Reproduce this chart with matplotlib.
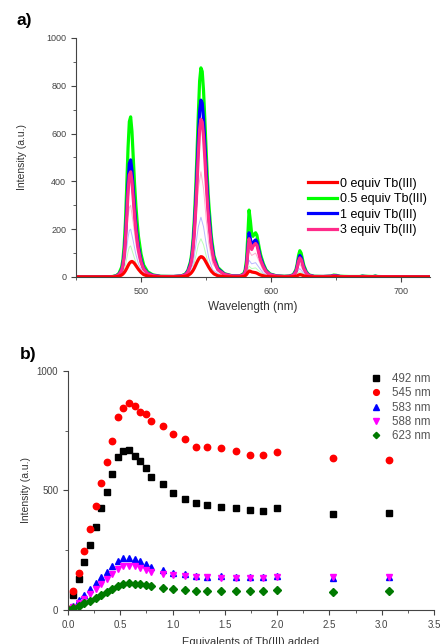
import matplotlib
matplotlib.use("Agg")
from matplotlib import pyplot as plt
from matplotlib.ticker import MultipleLocator, FormatStrFormatter

plt.rcParams['font.family'] = ['Liberation Sans', 'DejaVu Sans']

# ---- panel a: emission spectra ----
wl = [450, 470, 478, 481, 483, 485, 486, 487, 488, 489, 490, 491, 492, 493, 494, 495, 496, 497, 498, 500, 502, 505, 509, 515,
      525, 531, 534, 536, 538, 539, 540, 541, 542, 543, 544, 545, 546, 547, 548, 549, 550, 551, 552, 554, 556, 559, 564, 570,
      576, 579, 580, 581, 582, 583, 584, 585, 586, 587, 588, 589, 590, 591, 592, 594, 596, 599, 604, 610,
      614, 617, 619, 620, 621, 622, 623, 624, 625, 627, 629, 633, 640, 646, 648, 650, 653, 660, 668, 670, 672, 678, 680, 682, 690, 722]

int_0eq = [0, 0, 0, 1, 3, 8, 12, 18, 26, 36, 47, 57, 63, 65, 62, 56, 48, 40, 32, 19, 10, 4, 1, 0,
           0, 1, 3, 6, 14, 20, 28, 38, 50, 62, 73, 81, 85, 84, 79, 71, 61, 51, 41, 24, 13, 5, 1, 0,
           0, 2, 5, 10, 18, 25, 24, 21, 20, 19, 18, 16, 13, 10, 8, 5, 3, 1, 0, 0,
           0, 1, 3, 5, 8, 10, 9, 7, 5, 2, 1, 0, 0, 0, 1, 1, 0, 0, 0, 0, 0, 0, 0, 0, 0, 0]
int_05eq = [0, 0, 2, 6, 15, 40, 70, 130, 230, 380, 540, 650, 670, 610, 500, 390, 300, 230, 170, 95, 50, 22, 9, 3,
            2, 5, 12, 28, 65, 100, 160, 250, 370, 520, 680, 820, 875, 860, 780, 660, 530, 410, 310, 170, 90, 40, 14, 5,
            5, 15, 30, 70, 170, 280, 235, 180, 170, 180, 185, 175, 145, 115, 90, 55, 30, 13, 5, 3,
            4, 10, 30, 55, 90, 110, 100, 75, 50, 22, 9, 3, 2, 4, 8, 7, 3, 2, 2, 4, 3, 2, 4, 2, 1, 0]
int_1eq = [0, 0, 1, 4, 11, 29, 51, 95, 168, 278, 395, 475, 490, 446, 365, 285, 219, 168, 124, 69, 36, 16, 7, 2,
           2, 4, 10, 24, 55, 85, 135, 212, 313, 440, 575, 694, 740, 728, 660, 558, 448, 347, 262, 144, 76, 34, 12, 4,
           4, 11, 22, 50, 115, 185, 160, 130, 140, 150, 155, 148, 123, 97, 76, 47, 25, 11, 4, 2,
           3, 8, 24, 45, 74, 90, 82, 61, 41, 18, 7, 2, 2, 3, 6, 5, 2, 1, 1, 3, 2, 1, 3, 1, 1, 0]
int_3eq = [0, 0, 1, 4, 10, 26, 46, 85, 151, 250, 355, 427, 440, 401, 329, 256, 197, 151, 112, 62, 33, 14, 6, 2,
           2, 4, 9, 21, 49, 75, 121, 189, 279, 392, 513, 618, 660, 648, 588, 498, 400, 309, 234, 128, 68, 30, 11, 4,
           4, 10, 19, 43, 100, 160, 138, 115, 128, 135, 140, 133, 111, 87, 68, 42, 23, 10, 4, 2,
           3, 7, 21, 40, 66, 80, 73, 55, 36, 16, 6, 2, 2, 3, 5, 4, 2, 1, 1, 2, 2, 1, 2, 1, 1, 0]

# faint intermediate titration spectra
wl_faint = [450, 482, 486, 488, 490, 491, 492, 494, 496, 498, 501, 507, 530, 537, 540, 542, 544, 546, 548, 550,
            552, 555, 562, 578, 581, 583, 585, 588, 590, 594, 602, 615, 619, 622, 625, 630, 722]
faint_a = [0, 2, 25, 80, 165, 195, 200, 150, 95, 55, 20, 3, 1, 15, 55, 130, 210, 250, 210, 140,
           80, 30, 4, 2, 25, 70, 55, 60, 45, 15, 2, 2, 15, 35, 15, 1, 0]
faint_b = [0, 1, 16, 50, 105, 125, 130, 95, 60, 35, 13, 2, 1, 10, 35, 85, 135, 160, 135, 90,
           50, 20, 3, 1, 15, 45, 35, 38, 28, 10, 1, 1, 10, 22, 10, 1, 0]
faint_c = [0, 3, 40, 120, 250, 290, 300, 225, 140, 80, 30, 5, 2, 25, 95, 230, 370, 440, 370, 245,
           140, 55, 7, 3, 35, 110, 90, 100, 75, 25, 3, 2, 22, 55, 22, 2, 0]

# ---- panel b: titration ----
equiv = [0.0, 0.048, 0.102, 0.156, 0.207, 0.265, 0.316, 0.370, 0.424, 0.475, 0.530, 0.584, 0.638, 0.689,
         0.743, 0.798, 0.906, 1.008, 1.120, 1.228, 1.334, 1.461, 1.602, 1.739, 1.867, 2.000, 2.537, 3.073]
i492 = [3, 61, 128, 200, 272, 345, 425, 494, 567, 641, 666, 669, 645, 621,
        595, 554, 525, 487, 464, 448, 439, 432, 428, 416, 414, 428, 402, 407]
i545 = [4, 78, 156, 245, 340, 435, 529, 618, 705, 808, 843, 866, 852, 826,
        818, 790, 767, 734, 716, 682, 680, 678, 663, 648, 646, 660, 635, 627]
i583 = [3, 17, 42, 63, 86, 111, 136, 160, 184, 206, 216, 216, 212, 203,
        192, 181, 167, 156, 150, 142, 139, 142, 139, 139, 138, 141, 132, 136]
i588 = [2, 12, 30, 48, 68, 88, 108, 128, 150, 170, 182, 184, 182, 176,
        168, 160, 152, 145, 142, 138, 136, 135, 134, 134, 134, 136, 136, 136]
i623 = [1, 8, 18, 28, 38, 50, 62, 75, 88, 102, 110, 112, 110, 108,
        104, 102, 94, 88, 82, 78, 81, 78, 80, 78, 80, 82, 75, 79]

fig = plt.figure(figsize=(4.41, 6.44), dpi=100)

# panel a
ax1 = fig.add_axes([0.1723, 0.5699, 0.8027, 0.3711])
ax1.plot(wl_faint, faint_c, color="#ffb0d0", lw=0.7)
ax1.plot(wl_faint, faint_a, color="#b8b8ff", lw=0.7)
ax1.plot(wl_faint, faint_b, color="#b8ffb8", lw=0.7)
ax1.plot(wl, int_05eq, color="#00ff00", lw=2.3, label="0.5 equiv Tb(III)")
ax1.plot(wl, int_1eq, color="#0000ff", lw=2.3, label="1 equiv Tb(III)")
ax1.plot(wl, int_3eq, color="#ff2b8a", lw=2.3, label="3 equiv Tb(III)")
ax1.plot(wl, int_0eq, color="#ff0000", lw=2.3, label="0 equiv Tb(III)")
ax1.set_xlim(450, 722)
ax1.set_ylim(0, 1000)
ax1.xaxis.set_major_locator(MultipleLocator(100))
ax1.xaxis.set_minor_locator(MultipleLocator(50))
ax1.yaxis.set_major_locator(MultipleLocator(200))
ax1.yaxis.set_minor_locator(MultipleLocator(100))
ax1.spines["top"].set_visible(False)
ax1.spines["right"].set_visible(False)
for s in ("left", "bottom"):
	ax1.spines[s].set_color("#444444")
ax1.tick_params(which="major", direction="out", length=3.5, width=0.8, labelsize=6.5, colors="#444444")
ax1.tick_params(which="minor", direction="out", length=2, width=0.6, colors="#444444")
ax1.set_xlabel("Wavelength (nm)", fontsize=8.5, color="#333333", labelpad=4)
ax1.set_ylabel("Intensity (a.u.)", fontsize=7.5, color="#333333", labelpad=14)
h, l = ax1.get_legend_handles_labels()
order = [3, 0, 1, 2]
ax1.legend([h[i] for i in order], [l[i] for i in order], loc="upper left",
	bbox_to_anchor=(0.655, 0.415), frameon=False, fontsize=9, handlelength=2.3,
	handletextpad=0.3, labelspacing=0.28, borderaxespad=0, borderpad=0)
fig.text(0.038, 0.968, "a)", fontsize=12.5, fontweight="bold", va="center")

# panel b
ax2 = fig.add_axes([0.1542, 0.0528, 0.8299, 0.3716])
ax2.plot(equiv, i492, "s", color="#000000", ms=4.2, ls="none", label="492 nm")
ax2.plot(equiv, i545, "o", color="#ff0000", ms=4.6, ls="none", label="545 nm")
ax2.plot(equiv, i583, "^", color="#0000ff", ms=4.6, ls="none", label="583 nm")
ax2.plot(equiv, i588, "v", color="#ff00ff", ms=4.6, ls="none", label="588 nm")
ax2.plot(equiv, i623, "D", color="#007a00", ms=3.6, ls="none", label="623 nm")
ax2.set_xlim(0, 3.5)
ax2.set_ylim(0, 1000)
ax2.xaxis.set_major_locator(MultipleLocator(0.5))
ax2.xaxis.set_minor_locator(MultipleLocator(0.25))
ax2.xaxis.set_major_formatter(FormatStrFormatter("%.1f"))
ax2.yaxis.set_major_locator(MultipleLocator(500))
ax2.yaxis.set_minor_locator(MultipleLocator(250))
ax2.spines["top"].set_visible(False)
ax2.spines["right"].set_visible(False)
for s in ("left", "bottom"):
	ax2.spines[s].set_color("#444444")
ax2.tick_params(which="major", direction="out", length=3.5, width=0.8, labelsize=7, colors="#444444")
ax2.tick_params(which="minor", direction="out", length=2, width=0.6, colors="#444444")
ax2.set_xlabel("Equivalents of Tb(III) added", fontsize=8, color="#333333", labelpad=5)
ax2.set_ylabel("Intensity (a.u.)", fontsize=7.5, color="#333333", labelpad=4)
leg = ax2.legend(loc="upper left", bbox_to_anchor=(0.825, 0.99), frameon=False, fontsize=8.3,
	handlelength=1.0, handletextpad=0.9, labelspacing=0.2, borderaxespad=0, borderpad=0,
	markerscale=0.9)
for t in leg.get_texts():
	t.set_color("#555555")
fig.text(0.045, 0.449, "b)", fontsize=12.5, fontweight="bold", va="center")

fig.savefig("out.png", dpi=100)
